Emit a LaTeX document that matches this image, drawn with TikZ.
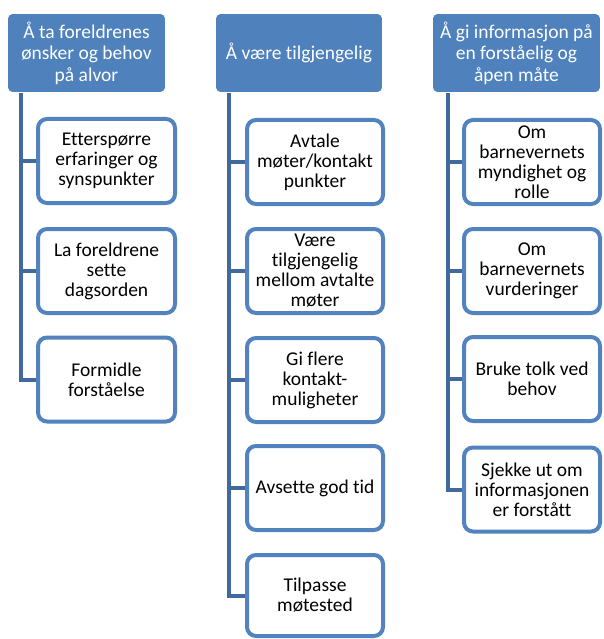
\documentclass[tikz,border=0pt]{standalone}
\usepackage{fontspec}
\setmainfont{Carlito}[Ligatures={NoCommon}]
\definecolor{hdrblue}{HTML}{4F81BD}
\definecolor{boxblue}{HTML}{5283BF}
\definecolor{linkblue}{HTML}{41699B}
\begin{document}
\begin{tikzpicture}[x=1pt,y=-1pt,
  hdr/.style={draw=white,line width=0.8pt,fill=hdrblue,rounded corners=5pt,text=white,
    minimum width=#1,minimum height=79pt,align=center,inner sep=0pt,
    font=\fontsize{19.5}{21.5}\selectfont},
  child/.style={draw=boxblue,line width=4pt,fill=white,rounded corners=9pt,text=black,
    minimum width=#1,minimum height=84pt,align=center,inner sep=0pt,
    font=\fontsize{19.5}{20}\selectfont},
  conn/.style={draw=linkblue,line width=4pt}]
\useasboundingbox (0,0) rectangle (603,639);
% column 1
\node[hdr=158pt] (h1) at (86.5,53) {Å ta foreldrenes\\ønsker og behov\\på alvor};
\node[child=137pt] (c11) at (106.5,161) {Etterspørre\\erfaringer og\\synspunkter};
\node[child=137pt] (c12) at (106.5,271) {La foreldrene\\sette\\dagsorden};
\node[child=137pt] (c13) at (106.5,379.5) {Formidle\\forståelse};
% column 2
\node[hdr=167pt] (h2) at (299,53) {Å være tilgjengelig};
\node[child=136pt] (c21) at (315,162) {Avtale\\møter/kontakt\\punkter};
\node[child=136pt] (c22) at (315,271) {Være\\tilgjengelig\\mellom avtalte\\møter};
\node[child=136pt] (c23) at (315,380) {Gi flere\\kontakt-\\muligheter};
\node[child=136pt] (c24) at (315,488) {Avsette god tid};
\node[child=136pt,minimum height=81pt] (c25) at (315,595.5) {Tilpasse\\møtested};
% column 3
\node[hdr=168pt] (h3) at (516.5,53) {Å gi informasjon på\\en forståelig og\\åpen måte};
\node[child=136pt] (c31) at (532,162) {Om\\barnevernets\\myndighet og\\rolle};
\node[child=136pt] (c32) at (532,271) {Om\\barnevernets\\vurderinger};
\node[child=136pt] (c33) at (532,379) {Bruke tolk ved\\behov};
\node[child=136pt] (c34) at (532,489.5) {Sjekke ut om\\informasjonen\\er forstått};
% connectors
\coordinate (l1) at ([xshift=14pt]h1.south west);
\coordinate (l2) at ([xshift=14pt]h2.south west);
\coordinate (l3) at ([xshift=16pt]h3.south west);
\draw[conn] (l1) |- (c13.west);
\draw[conn] (l1 |- c11.west) -- (c11.west);
\draw[conn] (l1 |- c12.west) -- (c12.west);
\draw[conn] (l2) |- (c25.west);
\foreach \c in {c21,c22,c23,c24} \draw[conn] (l2 |- \c.west) -- (\c.west);
\draw[conn] (l3) |- (c34.west);
\foreach \c in {c31,c32,c33} \draw[conn] (l3 |- \c.west) -- (\c.west);
\end{tikzpicture}
\end{document}
